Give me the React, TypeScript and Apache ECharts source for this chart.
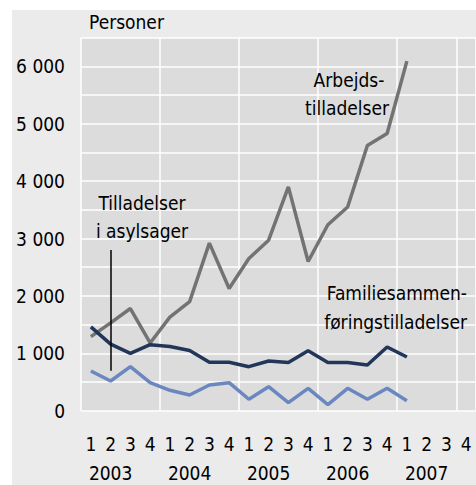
import React, { useEffect, useRef } from "react";
import * as echarts from "echarts";

const years = ["2003", "2004", "2005", "2006", "2007"];
const quarters = ["1", "2", "3", "4"];
const categories = years.flatMap((y) => quarters.map((q) => `${y}-${q}`));

// Arbejdstilladelser
const arbeid = [1290, 1530, 1780, 1180, 1630, 1900, 2920, 2130, 2650, 2970, 3900, 2600, 3240, 3550, 4620, 4830, 6090];
// Familiesammenføringstilladelser
const familie = [1460, 1160, 1000, 1150, 1120, 1050, 843, 843, 767, 866, 840, 1045, 840, 840, 796, 1110, 935];
// Tilladelser i asylsager
const asyl = [692, 517, 767, 488, 355, 273, 448, 488, 200, 418, 142, 390, 105, 390, 200, 390, 172];

const FONT = "'DejaVu Sans Condensed', 'DejaVu Sans', sans-serif";
const FS = 19;

export default function App() {
  const ref = useRef<HTMLDivElement>(null);
  useEffect(() => {
    if (!ref.current) return;
    const chart = echarts.init(ref.current, undefined, { renderer: "svg" });
    const txt = (text: string, x: number, y: number, align: string) => ({
      type: "text",
      x,
      y,
      z: 10,
      style: { text, fill: "#000", font: `${FS}px ${FONT}`, align, verticalAlign: "middle" },
    });
    chart.setOption({
      animation: false,
      backgroundColor: "transparent",
      grid: {
        left: 81,
        top: 37.6,
        width: 400,
        height: 373.1,
        show: false,
        borderWidth: 0,
      },
      xAxis: [
        {
          type: "category",
          data: categories,
          boundaryGap: true,
          axisLine: { show: false },
          axisTick: { show: false },
          axisLabel: {
            interval: 0,
            margin: 24,
            color: "#000",
            fontSize: FS,
            fontFamily: FONT,
            formatter: (v: string) => v.split("-")[1],
          },
          splitLine: { show: true, interval: 3, lineStyle: { color: "#ffffff", width: 1.5 } },
        },
        {
          type: "category",
          data: categories,
          position: "bottom",
          boundaryGap: true,
          axisLine: { show: false },
          axisTick: { show: false },
          axisLabel: {
            interval: 0,
            margin: 53,
            color: "#000",
            fontSize: FS,
            fontFamily: FONT,
            formatter: (v: string, i: number) => (i % 4 === 1 ? v.split("-")[0] : ""),
          },
          splitLine: { show: false },
        },
      ],
      yAxis: {
        type: "value",
        min: 0,
        max: 6500,
        interval: 500,
        axisLine: { show: false },
        axisTick: { show: false },
        axisLabel: {
          margin: 16,
          color: "#000",
          fontSize: FS,
          fontFamily: FONT,
          formatter: (v: number) => (v % 1000 !== 0 ? "" : v === 0 ? "0" : `${v / 1000} 000`),
        },
        splitLine: { show: true, lineStyle: { color: "#ffffff", width: 1.5 } },
      },
      series: [
        {
          name: "Arbejdstilladelser",
          type: "line",
          data: arbeid,
          symbol: "none",
          lineStyle: { color: "#737373", width: 3.5 },
          z: 3,
        },
        {
          name: "Familiesammenføringstilladelser",
          type: "line",
          data: familie,
          symbol: "none",
          lineStyle: { color: "#223659", width: 3.5 },
          z: 4,
        },
        {
          name: "Tilladelser i asylsager",
          type: "line",
          data: asyl,
          symbol: "none",
          lineStyle: { color: "#6a88bf", width: 3.5 },
          z: 3,
          markLine: {
            silent: true,
            symbol: "none",
            label: { show: false },
            lineStyle: { color: "#000", width: 1.5, type: "solid" },
            data: [[{ coord: ["2003-2", 697] }, { coord: ["2003-2", 2800] }]],
          },
        },
      ],
      graphic: [
        txt("Personer", 89, 22, "left"),
        txt("Tilladelser", 142, 203, "center"),
        txt("i asylsager", 142, 231, "center"),
        txt("Arbejds-", 349, 80, "center"),
        txt("tilladelser", 347, 108, "center"),
        txt("Familiesammen-", 467, 293, "right"),
        txt("føringstilladelser", 467, 322, "right"),
      ],
    });
    return () => chart.dispose();
  }, []);
  return (
    <div style={{ position: "fixed", left: 0, top: 0, width: 476, height: 485, background: "#fff", overflow: "hidden" }}>
      <div style={{ position: "absolute", left: 12, top: 10, right: 0, bottom: 0, background: "#ebebeb" }} />
      <div style={{ position: "absolute", left: 81, top: 37.6, width: 400, height: 373.1, background: "#dcdcdc" }} />
      <div ref={ref} style={{ position: "absolute", left: 0, top: 0, width: 476, height: 485 }} />
    </div>
  );
}
